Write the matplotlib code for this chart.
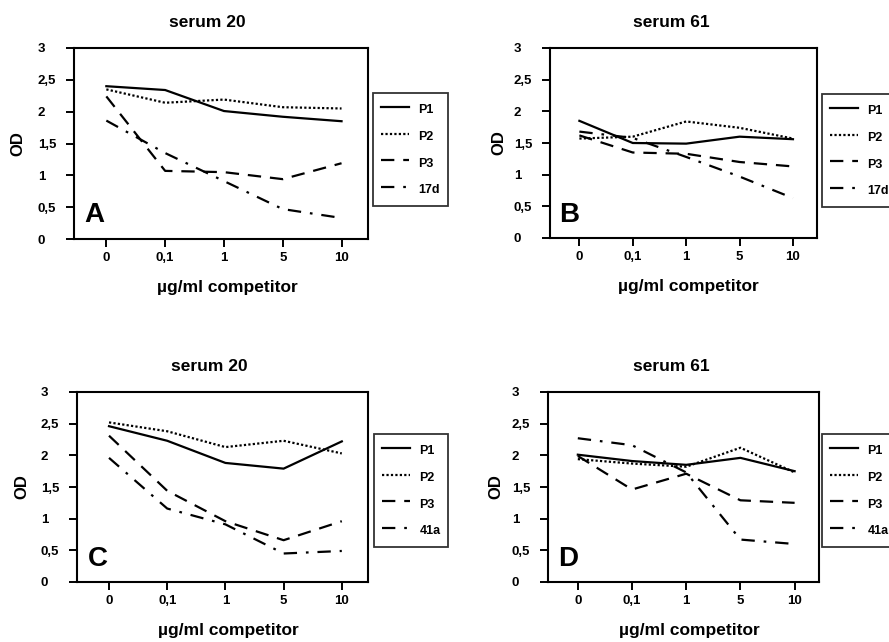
import matplotlib
matplotlib.use("Agg")
import matplotlib.pyplot as plt

plt.rcParams["font.family"] = ["Liberation Sans", "DejaVu Sans"]
plt.rcParams["font.weight"] = "bold"

# ----------------------------------------------------------------------
# data
# ----------------------------------------------------------------------
doses = ["0", "0,1", "1", "5", "10"]
yticks = [0, 0.5, 1, 1.5, 2, 2.5, 3]
ytick_labels = ["0", "0,5", "1", "1,5", "2", "2,5", "3"]

# panel A - serum 20, competitor 17d
a_p1 = [2.40, 2.34, 2.01, 1.92, 1.85]
a_p2 = [2.35, 2.14, 2.19, 2.07, 2.05]
a_p3 = [2.24, 1.07, 1.05, 0.94, 1.19]
a_17d = [1.86, 1.35, 0.91, 0.47, 0.33]

# panel B - serum 61, competitor 17d
b_p1 = [1.85, 1.50, 1.49, 1.60, 1.56]
b_p2 = [1.57, 1.60, 1.84, 1.74, 1.57]
b_p3 = [1.62, 1.35, 1.33, 1.20, 1.13]
b_17d = [1.68, 1.58, 1.28, 0.97, 0.63]

# panel C - serum 20, competitor 41a
c_p1 = [2.46, 2.23, 1.88, 1.79, 2.22]
c_p2 = [2.52, 2.38, 2.13, 2.23, 2.03]
c_p3 = [2.31, 1.44, 0.96, 0.66, 0.96]
c_41a = [1.96, 1.16, 0.91, 0.45, 0.49]

# panel D - serum 61, competitor 41a
d_p1 = [2.01, 1.91, 1.85, 1.96, 1.75]
d_p2 = [1.94, 1.87, 1.82, 2.12, 1.73]
d_p3 = [1.99, 1.46, 1.71, 1.29, 1.25]
d_41a = [2.27, 2.16, 1.73, 0.67, 0.60]

panels = [
    ("A", "serum 20", [a_p1, a_p2, a_p3, a_17d], ["P1", "P2", "P3", "17d"]),
    ("B", "serum 61", [b_p1, b_p2, b_p3, b_17d], ["P1", "P2", "P3", "17d"]),
    ("C", "serum 20", [c_p1, c_p2, c_p3, c_41a], ["P1", "P2", "P3", "41a"]),
    ("D", "serum 61", [d_p1, d_p2, d_p3, d_41a], ["P1", "P2", "P3", "41a"]),
]

# ----------------------------------------------------------------------
# layout (pixels: left, right, top, bottom) and legend anchor (left, top)
# ----------------------------------------------------------------------
W, H = 889, 642
boxes = [(74, 368, 48, 239), (550, 817, 48, 238),
         (77, 368, 392, 582), (548, 819, 392, 582)]
legend_pos = [(373, 93), (822, 94), (374, 434), (822, 434)]

styles = ["-", (0, (1, 1)), (0, (6, 4)), (0, (6, 4, 1.2, 4))]

fig = plt.figure(figsize=(W / 100, H / 100), dpi=100)

for (letter, title, series, labels), (l, r, t, b), (lx, ly) in zip(panels, boxes, legend_pos):
    ax = fig.add_axes([l / W, (H - b) / H, (r - l) / W, (b - t) / H])
    x = range(len(doses))
    for vals, ls, lab in zip(series, styles, labels):
        ax.plot(x, vals, color="black", lw=1.6, linestyle=ls, label=lab)

    ax.set_xlim(-0.55, 4.45)
    ax.set_ylim(0, 3)
    ax.set_xticks(list(x))
    ax.set_xticklabels(doses, fontsize=9.5, fontweight="bold")
    ax.set_yticks(yticks)
    ax.set_yticklabels(ytick_labels, fontsize=9.5, fontweight="bold")
    for lbl in ax.get_yticklabels():
        lbl.set_ha("left")
    ax.tick_params(axis="y", direction="out", length=5.5, width=1.4, pad=20.5)
    ax.tick_params(axis="x", direction="out", length=5.5, width=1.4, pad=4)
    for sp in ax.spines.values():
        sp.set_linewidth(1.5)

    ax.set_title(title, fontsize=12.5, fontweight="bold", x=0.455, pad=15)
    ax.set_ylabel("OD", fontsize=12, fontweight="bold")
    ax.yaxis.set_label_coords(-0.165, 0.5)
    ax.set_xlabel("µg/ml competitor", fontsize=12.5, fontweight="bold")
    ax.xaxis.set_label_coords(0.52, -0.215)

    ax.text(0.036, 0.055, letter, transform=ax.transAxes, fontsize=20,
            fontweight="bold", ha="left", va="bottom")

    leg = fig.legend(loc="upper left", bbox_to_anchor=(lx / W, (H - ly) / H),
                     handles=ax.get_lines(), labels=labels,
                     fontsize=9, frameon=True, fancybox=False, edgecolor="black",
                     handlelength=2.24, handleheight=1.8, handletextpad=0.8,
                     labelspacing=0.72, borderpad=0.6, borderaxespad=0)
    leg.get_frame().set_linewidth(1.3)
    for txt in leg.get_texts():
        txt.set_fontweight("bold")

fig.savefig("out.png", dpi=100)
